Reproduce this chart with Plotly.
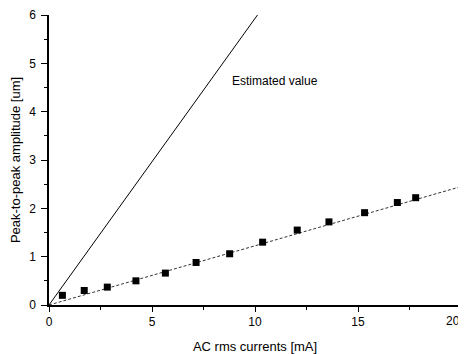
import plotly.graph_objects as go

current_ma = [0.65, 1.71, 2.83, 4.22, 5.65, 7.14, 8.77, 10.37, 12.05, 13.59, 15.32, 16.91, 17.8]
amplitude_um = [0.20, 0.30, 0.37, 0.50, 0.66, 0.88, 1.06, 1.30, 1.55, 1.72, 1.91, 2.12, 2.22]

fit_x = [0, 20]
fit_y = [0, 2.45]

est_x = [0, 10.12]
est_y = [0, 6.0]

x_ticks = [0, 5, 10, 15, 20]
x_ticktext = ["0", "5", "10", "15", ""]
x_last_label = "20"
y_ticks = [0, 1, 2, 3, 4, 5, 6]

font = dict(family="Liberation Sans, Arial, sans-serif", size=12, color="black")
title_font = dict(family="Liberation Sans, Arial, sans-serif", size=13, color="black")

fig = go.Figure()
fig.add_trace(go.Scatter(x=est_x, y=est_y, mode="lines",
                         line=dict(color="black", width=1), showlegend=False))
fig.add_trace(go.Scatter(x=fit_x, y=fit_y, mode="lines",
                         line=dict(color="#333", width=1, dash="3px,2px"), showlegend=False))
fig.add_trace(go.Scatter(x=current_ma, y=amplitude_um, mode="markers",
                         marker=dict(symbol="square", size=7, color="black"), showlegend=False))

fig.add_annotation(x=8.8, y=4.64, text="Estimated value", showarrow=False,
                   xanchor="left", yanchor="middle", font=font)
fig.add_annotation(x=x_ticks[-1], xref="x", y=0, yref="paper", text=x_last_label,
                   showarrow=False, xanchor="right", xshift=1, yanchor="middle", yshift=-16,
                   font=font)

fig.update_layout(
    width=458, height=346,
    margin=dict(l=41, r=5, t=7, b=49),
    paper_bgcolor="white", plot_bgcolor="white",
    font=font,
    xaxis=dict(range=[0, 20], tickvals=x_ticks, ticktext=x_ticktext, showgrid=False, zeroline=False,
               automargin=False,
               showline=True, linecolor="black", linewidth=1.5, ticks="outside", ticklen=5,
               tickcolor="black", minor=dict(tickvals=[2.5, 7.5, 12.5, 17.5], ticks="outside", ticklen=3, tickcolor="black"),
               title=dict(text="AC rms currents [mA]", font=title_font, standoff=16)),
    yaxis=dict(range=[0, 6], tickvals=y_ticks, showgrid=False, zeroline=False,
               automargin=False, ticklabelstandoff=3,
               showline=True, linecolor="black", linewidth=1.5, ticks="outside", ticklen=6,
               tickcolor="black", minor=dict(tickvals=[0.5, 1.5, 2.5, 3.5, 4.5, 5.5], ticks="outside", ticklen=3, tickcolor="black"),
               title=dict(text="Peak-to-peak amplitude [um]", font=title_font, standoff=18)),
)

fig.write_html("out.html")
